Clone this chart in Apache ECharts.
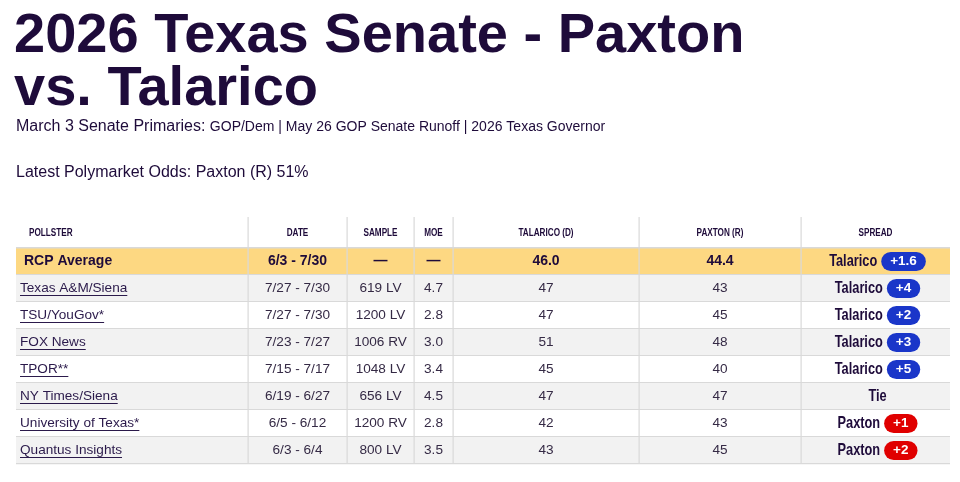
<!DOCTYPE html>
<html><head><meta charset="utf-8">
<script src="https://cdn.jsdelivr.net/npm/echarts@6/dist/echarts.min.js"></script>
<style>html,body{margin:0;padding:0;background:#fff}#c{width:960px;height:482px}</style>
</head><body><div id="c"></div>
<script>
// ---- data ----
const columns   = ['POLLSTER','DATE','SAMPLE','MOE','TALARICO (D)','PAXTON (R)','SPREAD'];
const pollsters = ['RCP Average','Texas A&M/Siena','TSU/YouGov*','FOX News','TPOR**','NY Times/Siena','University of Texas*','Quantus Insights'];
const dates     = ['6/3 - 7/30','7/27 - 7/30','7/27 - 7/30','7/23 - 7/27','7/15 - 7/17','6/19 - 6/27','6/5 - 6/12','6/3 - 6/4'];
const samples   = ['\u2014','619 LV','1200 LV','1006 RV','1048 LV','656 LV','1200 RV','800 LV'];
const moes      = ['\u2014','4.7','2.8','3.0','3.4','4.5','2.8','3.5'];
const talarico  = [46.0,47,47,51,45,47,42,43];
const paxton    = [44.4,43,45,48,40,47,43,45];
const spreadLeader = ['Talarico','Talarico','Talarico','Talarico','Talarico','Tie','Paxton','Paxton'];
const spreadMargin = ['+1.6','+4','+2','+3','+5','','+1','+2'];

// ---- layout / style ----
const colEdges = [0,232,331,398,437,623,785,934];
const HEADER_H = 31;
const INK = '#1e0b3a';
const BODY = '#352a45';
const LINE = '#d9d9d9';
const SANS = '"Liberation Sans", Arial, Helvetica, sans-serif';
const F_BODY = '13.6px ' + SANS;
const F_BOLD = 'bold 14px ' + SANS;
const F_HEAD = 'bold 11.5px ' + SANS; const HEAD_SCALE = 0.71;
const F_NAME = 'bold 16.5px ' + SANS; const NAME_SCALE = 0.775;
const F_PILL = 'bold 13.5px ' + SANS;
const PILL = {Talarico:'#1a36c9', Paxton:'#e00000'};

const mctx = document.createElement('canvas').getContext('2d');
function tw(t, f){ mctx.font = f; return mctx.measureText(t).width; }

function txt(text, x, y, font, fill, align){
  return {type:'text', style:{text:text, x:x, y:y, font:font, fill:fill, align:align||'center', verticalAlign:'middle'}};
}
// condensed text: regular face squeezed horizontally
function ntxt(text, x, y, font, fill, align, sx){
  return {type:'text', x:x, y:y, scaleX:sx, scaleY:1,
          style:{text:text, x:0, y:0, font:font, fill:fill, align:align||'center', verticalAlign:'middle'}};
}
function rect(x,y,w,h,fill,r){
  return {type:'rect', shape:{x:x,y:y,width:w,height:h,r:r||0}, style:{fill:fill}};
}

function renderItem(params, api){
  const r = api.value(1);
  const c = api.coord([0, r]);
  const bandH = api.size([0,1])[1];
  const yTop = c[1] - bandH/2, yMid = c[1], yBot = c[1] + bandH/2;
  const X = v => api.coord([v, r])[0];
  const x0 = X(colEdges[0]), x1 = X(colEdges[colEdges.length-1]);
  const mid = k => (X(colEdges[k]) + X(colEdges[k+1]))/2;
  const isAvg = r === 0;
  const ch = [];
  ch.push(rect(x0, yTop, x1-x0, bandH, isAvg ? '#fdd882' : (r%2===1 ? '#f2f2f2' : '#ffffff')));
  ch.push(rect(x0, yBot-1, x1-x0, 1.2, LINE));
  let vTop = yTop;
  if (isAvg){
    vTop = yTop - HEADER_H;
    const hMid = yTop - HEADER_H/2;
    ch.push(rect(x0, yTop-1, x1-x0, 1.5, LINE));
    columns.forEach((name,k)=>{
      if (k===0) ch.push(ntxt(name, x0+13, hMid, F_HEAD, INK, 'left', HEAD_SCALE));
      else ch.push(ntxt(name, mid(k), hMid, F_HEAD, INK, 'center', HEAD_SCALE));
    });
  }
  for (let k=1;k<colEdges.length-1;k++){
    ch.push(rect(X(colEdges[k])-0.5, vTop, 1.2, yBot-vTop, LINE));
  }
  const font = isAvg ? F_BOLD : F_BODY;
  const col = isAvg ? INK : BODY;
  if (isAvg){
    ch.push(txt(pollsters[r], x0+8, yMid, F_BOLD, INK, 'left'));
  } else {
    ch.push(txt(pollsters[r], x0+4, yMid, F_BODY, '#2b1a4b', 'left'));
    ch.push(rect(x0+4, yMid+6.5, tw(pollsters[r], F_BODY), 1, '#2b1a4b'));
  }
  ch.push(txt(dates[r], mid(1), yMid, font, col));
  ch.push(txt(samples[r], mid(2), yMid, font, col));
  ch.push(txt(moes[r], mid(3), yMid, font, col));
  ch.push(txt(isAvg ? talarico[r].toFixed(1) : String(talarico[r]), mid(4), yMid, font, col));
  ch.push(txt(isAvg ? paxton[r].toFixed(1) : String(paxton[r]), mid(5), yMid, font, col));
  // spread
  const lead = spreadLeader[r], marg = spreadMargin[r];
  const wN = tw(lead, F_NAME) * NAME_SCALE;
  const cx = mid(6) + 2;
  if (marg){
    const wP = tw(marg, F_PILL) + 18, gap = 4;
    const s = cx - (wN + gap + wP)/2;
    ch.push(ntxt(lead, s, yMid, F_NAME, INK, 'left', NAME_SCALE));
    const px = s + wN + gap;
    ch.push(rect(px, yMid-9.5, wP, 19, PILL[lead], 9.5));
    ch.push(txt(marg, px + wP/2, yMid, F_PILL, '#ffffff'));
  } else {
    ch.push(ntxt(lead, cx, yMid, F_NAME, INK, 'center', NAME_SCALE));
  }
  return {type:'group', children:ch};
}

const chart = echarts.init(document.getElementById('c'));
chart.setOption({
  animation:false,
  backgroundColor:'#ffffff',
  title:[
    {text:'2026 Texas Senate - Paxton\nvs. Talarico', left:14, top:10, padding:0,
     textStyle:{fontFamily:SANS, fontWeight:'bold', fontSize:56, lineHeight:53, color:INK}},
    {text:'{a|March 3 Senate Primaries: }{b|GOP/Dem | May 26 GOP Senate Runoff | 2026 Texas Governor}',
     left:16, top:117, padding:0,
     textStyle:{fontWeight:'normal',
                rich:{a:{fontFamily:SANS, fontWeight:'normal', fontSize:16, lineHeight:20, color:INK},
                      b:{fontFamily:SANS, fontWeight:'normal', fontSize:14, lineHeight:20, color:INK}}}},
    {text:'Latest Polymarket Odds: Paxton (R) 51%', left:16, top:163, padding:0,
     textStyle:{fontFamily:SANS, fontWeight:'normal', fontSize:16, lineHeight:20, color:INK}}
  ],
  grid:{left:16, right:10, top:248, bottom:18, containLabel:false},
  xAxis:{type:'value', min:0, max:colEdges[colEdges.length-1], show:false},
  yAxis:{type:'category', data:pollsters, inverse:true, show:false},
  series:[{type:'custom', clip:false, silent:true, renderItem:renderItem,
           encode:{x:0, y:1}, data:pollsters.map((p,i)=>[0,i])}]
});
</script></body></html>
